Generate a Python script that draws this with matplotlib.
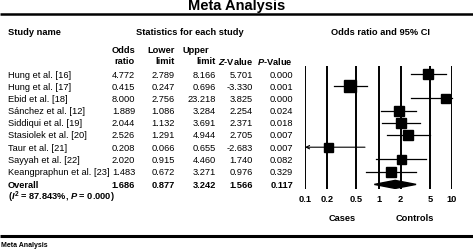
import numpy as np
import matplotlib
matplotlib.use("Agg")
import matplotlib.pyplot as plt
from matplotlib.patches import Polygon

plt.rcParams['font.family'] = ['Liberation Sans', 'DejaVu Sans']
plt.rcParams['mathtext.fontset'] = 'custom'
plt.rcParams['mathtext.rm'] = 'Liberation Sans:bold'
plt.rcParams['mathtext.it'] = 'Liberation Sans:bold:italic'
plt.rcParams['mathtext.bf'] = 'Liberation Sans:bold'

# 数据
studies = ['Hung et al. [16]', 'Hung et al. [17]', 'Ebid et al. [18]',
           'Sánchez et al. [12]', 'Siddiqui et al. [19]', 'Stasiolek et al. [20]',
           'Taur et al. [21]', 'Sayyah et al. [22]', 'Keangpraphun et al. [23]']
odds = [4.772, 0.415, 8.000, 1.889, 2.044, 2.526, 0.208, 2.020, 1.483]
lower = [2.789, 0.247, 2.756, 1.086, 1.132, 1.291, 0.066, 0.915, 0.672]
upper = [8.166, 0.696, 23.218, 3.284, 3.691, 4.944, 0.655, 4.460, 3.271]
z_vals = [5.701, -3.330, 3.825, 2.254, 2.371, 2.705, -2.683, 1.740, 0.976]
p_vals = [0.000, 0.001, 0.000, 0.024, 0.018, 0.007, 0.007, 0.082, 0.329]
overall = dict(odds=1.686, lower=0.877, upper=3.242, z=1.566, p=0.117)
i2_text = 87.843
overall_p = 0.000
ticks = [0.1, 0.2, 0.5, 1, 2, 5, 10]
square_px = [10, 11.5, 9, 10, 10, 10, 9, 9, 9.5]

W, H = 473, 253
fig = plt.figure(figsize=(W / 100, H / 100), dpi=100)
ax = fig.add_axes([0, 0, 1, 1])
ax.set_xlim(0, W)
ax.set_ylim(H, 0)
ax.axis('off')

fs = 6.7
row0, dy = 75, 12.2

# 标题
ax.text(237, 6, 'Meta Analysis', ha='center', va='center', fontsize=10.5, fontweight='bold')
ax.plot([0, W], [15, 15], color='black', lw=1.8, solid_capstyle='butt')
ax.plot([0, W], [237, 237], color='black', lw=2.2, solid_capstyle='butt')
ax.text(1, 246, 'Meta Analysis', ha='left', va='center', fontsize=5, fontweight='bold')

# 表头
ax.text(8, 32, 'Study name', ha='left', va='center', fontsize=fs, fontweight='bold')
ax.text(190, 32, 'Statistics for each study', ha='center', va='center', fontsize=fs, fontweight='bold')
ax.text(380, 32, 'Odds ratio and 95% CI', ha='center', va='center', fontsize=fs, fontweight='bold')

cols = [135, 175, 216, 253, 293]
ax.text(cols[0], 50, 'Odds', ha='right', va='center', fontsize=fs, fontweight='bold')
ax.text(cols[0], 61, 'ratio', ha='right', va='center', fontsize=fs, fontweight='bold')
ax.text(cols[1], 50, 'Lower', ha='right', va='center', fontsize=fs, fontweight='bold')
ax.text(cols[1], 61, 'limit', ha='right', va='center', fontsize=fs, fontweight='bold')
ax.text(cols[2] - 7, 50, 'Upper', ha='right', va='center', fontsize=fs, fontweight='bold')
ax.text(cols[2], 61, 'limit', ha='right', va='center', fontsize=fs, fontweight='bold')
ax.text(cols[3], 61, r'$Z$-Value', ha='right', va='center', fontsize=fs, fontweight='bold')
ax.text(cols[4], 61, r'$P$-Value', ha='right', va='center', fontsize=fs, fontweight='bold')

# 各研究行
for i, name in enumerate(studies):
    y = row0 + dy * i
    ax.text(8, y, name, ha='left', va='center', fontsize=fs)
    vals = [f'{odds[i]:.3f}', f'{lower[i]:.3f}', f'{upper[i]:.3f}',
            f'{z_vals[i]:.3f}', f'{p_vals[i]:.3f}']
    for x, v in zip(cols, vals):
        ax.text(x, y, v, ha='right', va='center', fontsize=fs)

y_ov = row0 + dy * len(studies) + 0.5
ax.text(8, y_ov, 'Overall', ha='left', va='center', fontsize=fs, fontweight='bold')
vals = [f"{overall['odds']:.3f}", f"{overall['lower']:.3f}", f"{overall['upper']:.3f}",
        f"{overall['z']:.3f}", f"{overall['p']:.3f}"]
for x, v in zip(cols, vals):
    ax.text(x, y_ov, v, ha='right', va='center', fontsize=fs, fontweight='bold')
ax.text(8, y_ov + 12, rf'($I^2$ = {i2_text:.3f}%, $P$ = {overall_p:.3f})',
        ha='left', va='center', fontsize=fs, fontweight='bold')

# 森林图
x0, x1 = 305, 452
top_px, bot_px = 67, 190
fax = fig.add_axes([x0 / W, (H - bot_px) / H, (x1 - x0) / W, (bot_px - top_px) / H])
fax.set_xscale('log')
fax.set_xlim(0.1, 10)
fax.set_ylim((bot_px - row0) / dy, (top_px - row0) / dy)
fax.axis('off')

for t in ticks:
    fax.axvline(t, color='black', lw=1.4, zorder=1)

for i in range(len(studies)):
    lo = max(lower[i], 0.1)
    hi = min(upper[i], 10)
    if lower[i] < 0.1:
        fax.annotate('', xy=(0.1, i), xytext=(hi, i),
                     arrowprops=dict(arrowstyle='->', lw=0.8, color='black',
                                     mutation_scale=6, shrinkA=0, shrinkB=0), zorder=2)
    else:
        fax.plot([lo, hi], [i, i], color='black', lw=0.9, zorder=2, clip_on=False)
    fax.plot(odds[i], i, marker='s', color='black', ms=square_px[i] * 0.72,
             zorder=3, clip_on=False)

yo = len(studies) + 0.05
h = 0.33
diamond = Polygon([(overall['lower'], yo), (overall['odds'], yo - h),
                   (overall['upper'], yo), (overall['odds'], yo + h)],
                  closed=True, color='black', zorder=3)
fax.add_patch(diamond)

# 刻度标签
for t in ticks:
    xp = x0 + (np.log10(t) + 1) / 2 * (x1 - x0)
    ax.text(xp, 200, f'{t:g}', ha='center', va='center', fontsize=fs, fontweight='bold')
ax.text(x0 + (np.log10(0.316) + 1) / 2 * (x1 - x0), 219, 'Cases',
        ha='center', va='center', fontsize=fs, fontweight='bold')
ax.text(x0 + (np.log10(3.16) + 1) / 2 * (x1 - x0), 219, 'Controls',
        ha='center', va='center', fontsize=fs, fontweight='bold')

fig.savefig('out.png', dpi=100)
